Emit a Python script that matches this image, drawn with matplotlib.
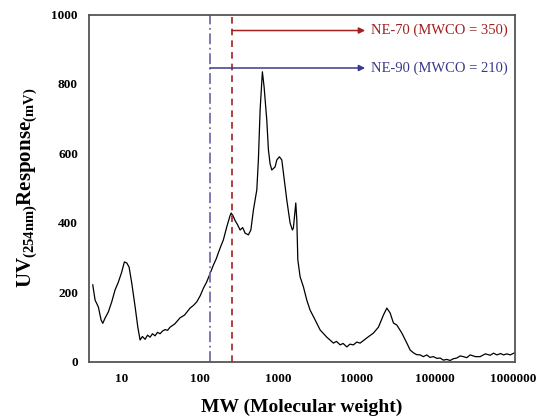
import matplotlib
matplotlib.use('Agg')
import matplotlib.pyplot as plt

# GPC trace: molecular weight vs UV(254nm) response
mw = [4.22, 4.52, 4.98, 5.39, 5.67, 6.06, 6.68, 7.38, 8.13, 8.97, 9.91, 10.7, 11.5, 12.3,
      13.3, 14.7, 15.9, 17.0, 18.2, 19.7, 21.2, 22.8, 24.5, 26.4, 28.4, 30.6, 33.0, 35.5,
      38.2, 41.1, 47.0, 55.2, 63.0, 74.1, 82.0, 90.2, 100, 110, 120, 131, 147, 160, 170,
      185, 197, 218, 240, 248, 262, 279, 300, 323, 348, 374, 412, 443, 478, 528, 553, 582,
      622, 654, 708, 743, 780, 821, 905, 951, 1027, 1102, 1156, 1277, 1407, 1506, 1550,
      1663, 1714, 1766, 1889, 2082, 2299, 2535, 2937, 3403, 4148, 5040, 5500, 6137, 6700,
      7472, 8200, 9074, 10000, 11050, 13450, 16360, 18950, 21950, 24270, 26720, 29450,
      32560, 37740, 43730, 48190, 53110, 58000, 64710, 71000, 78700, 86000, 95700, 106000,
      116600, 128000, 141900, 156400, 172000, 190500, 210000, 231300, 255000, 281800,
      330000, 378400, 440000, 508000, 560000, 619000, 690000, 752000, 830000, 916000,
      1040000]
response = [221, 177, 157, 120, 110, 125, 143, 172, 206, 229, 258, 287, 284, 272,
            226, 157, 99, 62, 72, 64, 76, 70, 80, 74, 84, 80, 88, 92,
            90, 99, 108, 126, 134, 154, 162, 172, 190, 212, 228, 249, 278, 296, 313,
            335, 350, 388, 420, 428, 420, 406, 394, 379, 386, 370, 365, 379, 437, 495, 581, 725,
            835, 792, 696, 610, 570, 552, 561, 581, 590, 581, 543, 465, 399, 379, 385,
            457, 408, 293, 244, 215, 177, 148, 120, 91, 70, 53, 58, 48, 52,
            42, 50, 48, 56, 53, 68, 82, 99, 134, 154, 140, 111,
            105, 82, 53, 33, 25, 20, 19, 14, 19, 12, 14, 9,
            10, 4, 6, 3, 8, 10, 16, 14, 11, 19,
            14, 14, 22, 18, 24, 19, 23, 19, 22, 19,
            25]

x_ticks = [10, 100, 1000, 10000, 100000, 1000000]
x_ticklabels = ['10', '100', '1000', '10000', '100000', '1000000']
y_ticks = [0, 200, 400, 600, 800, 1000]

ne90_cut = 133
ne70_cut = 253
arrow_end = 12800
ne70_label = 'NE-70 (MWCO = 350)'
ne90_label = 'NE-90 (MWCO = 210)'
ne70_y = 954
ne90_y = 846

plt.rcParams['mathtext.fontset'] = 'custom'
plt.rcParams['mathtext.rm'] = 'Liberation Serif:bold'
plt.rcParams['mathtext.bf'] = 'Liberation Serif:bold'

fig = plt.figure(figsize=(5.4, 4.16), dpi=100)
ax = fig.add_axes([0.165, 0.131, 0.789, 0.834])

ax.plot(mw, response, color='black', lw=0.9)

ax.axvline(ne90_cut, color='#6f6fa8', lw=1.3, ls=(0, (6, 2, 1, 2)))
ax.axvline(ne70_cut, color='#a52020', lw=1.2, ls=(0, (4, 3)))

ax.annotate('', xy=(arrow_end, ne70_y), xytext=(ne70_cut, ne70_y),
            arrowprops=dict(arrowstyle='-|>', color='#a02020', lw=1.1,
                            mutation_scale=9, shrinkA=0, shrinkB=0))
ax.annotate('', xy=(arrow_end, ne90_y), xytext=(ne90_cut, ne90_y),
            arrowprops=dict(arrowstyle='-|>', color='#3a3a8a', lw=1.1,
                            mutation_scale=9, shrinkA=0, shrinkB=0))
ax.text(15300, ne70_y, ne70_label, color='#a02020', fontsize=10.5,
        family='Liberation Serif', va='center', ha='left')
ax.text(15300, ne90_y, ne90_label, color='#3a3a8a', fontsize=10.5,
        family='Liberation Serif', va='center', ha='left')

ax.set_xscale('log')
ax.set_xlim(3.79, 1.06e6)
ax.set_ylim(0, 1000)
ax.set_xticks(x_ticks)
ax.set_xticklabels(x_ticklabels)
ax.minorticks_off()
ax.set_yticks(y_ticks)
ax.tick_params(length=0, pad=8, labelsize=9.5)
for lab in ax.get_xticklabels() + ax.get_yticklabels():
    lab.set_fontfamily('Liberation Serif')
    lab.set_fontweight('bold')

for sp in ax.spines.values():
    sp.set_color('#555555')
    sp.set_linewidth(1.3)

ax.set_xlabel('MW (Molecular weight)', fontsize=14, fontweight='bold',
              family='Liberation Serif', labelpad=10)
ax.set_ylabel(r'UV$_{\mathrm{(254nm)}}$Response$_{\mathrm{(mV)}}$', fontsize=15,
              fontweight='bold', family='Liberation Serif', labelpad=8)

fig.savefig('out.png', dpi=100)
